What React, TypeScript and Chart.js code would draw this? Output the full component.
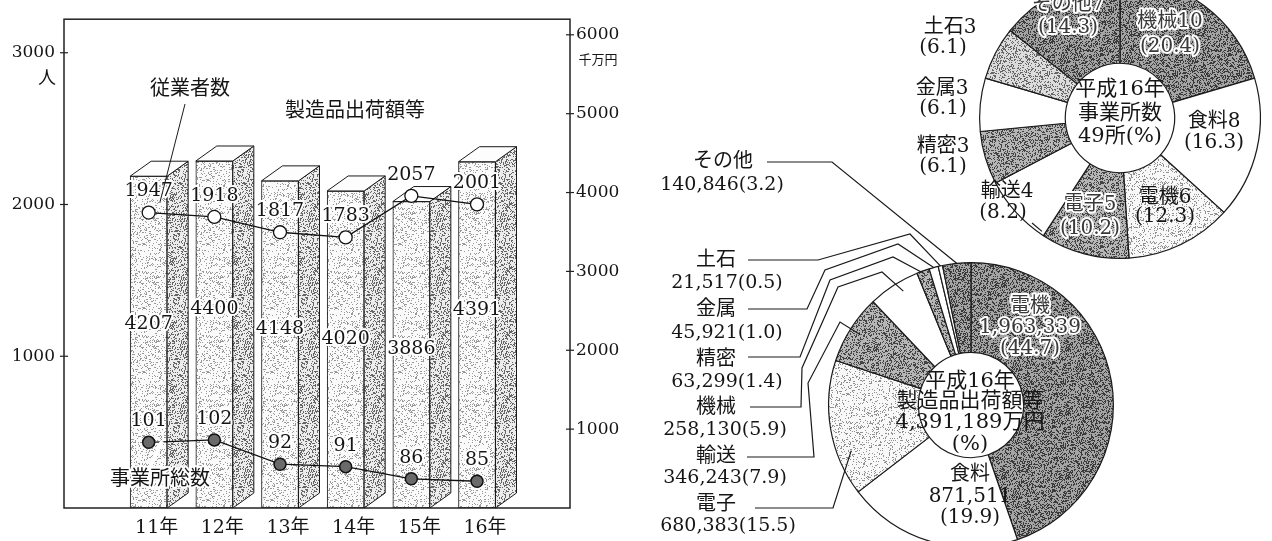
import React, { useEffect, useRef } from 'react';
import { Chart, registerables } from 'chart.js';

Chart.register(...registerables);

const FONT = "'DejaVu Serif', 'Noto Sans CJK JP', serif";

// ---------------- data ----------------
const years = ['11年', '12年', '13年', '14年', '15年', '16年'];
const shipmentSeries = [4207, 4400, 4148, 4020, 3886, 4391]; // 千万円 (right axis)
const employeeSeries = [1947, 1918, 1817, 1783, 2057, 2001]; // 人 (left axis)
const establishmentSeries = [101, 102, 92, 91, 86, 85]; // 所
const leftTicks = [1000, 2000, 3000];
const rightTicks = [1000, 2000, 3000, 4000, 5000, 6000];
const nameEmployees = '従業者数';
const nameShipments = '製造品出荷額等';
const nameEstablishments = '事業所総数';
const unitLeft = '人';
const unitRight = '千万円';

const estIndustries = ['機械', '食料', '電機', '電子', '輸送', '精密', '金属', '土石', 'その他'];
const estCounts = [10, 8, 6, 5, 4, 3, 3, 3, 7];
const estShares = ['20.4', '16.3', '12.3', '10.2', '8.2', '6.1', '6.1', '6.1', '14.3'];

const shipIndustries = ['電機', '食料', '電子', '輸送', '機械', '精密', '金属', '土石', 'その他'];
const shipValues = [1963339, 871511, 680383, 346243, 258130, 63299, 45921, 21517, 140846];
const shipShares = ['44.7', '19.9', '15.5', '7.9', '5.9', '1.4', '1.0', '0.5', '3.2'];

// ---------------- layout ----------------
const LEFT_W = 640;
const PAGE_H = 541;
const PLOT_TOP = 11;
const PLOT_LEFT_AXIS_W = 64;
const PLOT_RIGHT_AXIS_W = 70;
const PLOT_X_AXIS_H = 33;
const X_MIN = -0.647;
const X_MAX = 5.774;
const L_MAX = 3221;
const R_MAX = 6198;
const E_MIN = 74;
const E_MAX = 275;
const BAR_W = 37;
const DEPTH_X = 21;
const DEPTH_Y = 15;
const BAR_LABEL_DROP = 148;
const POINT_LABEL_RISE = 21;

const TOP_PIE = { cx: 1120, cy: 118, r: 141, cutout: '39%', L: 880, T: -30, W: 392, H: 300 };
const BOT_PIE = { cx: 971, cy: 405, r: 143, cutout: '37%', L: 640, T: 150, W: 632, H: 400 };

const fmt = (v: number) => v.toLocaleString('en-US');

function hash(i: number, j: number) {
  let h = Math.imul(i, 73856093) ^ Math.imul(j, 19349663);
  h = Math.imul(h ^ (h >>> 13), 1274126177);
  h = (h ^ (h >>> 16)) >>> 0;
  return h;
}

function makePattern(base: string, dot: string, density: number) {
  const size = 64;
  const c = document.createElement('canvas');
  c.width = size;
  c.height = size;
  const g = c.getContext('2d')!;
  g.fillStyle = base;
  g.fillRect(0, 0, size, size);
  g.fillStyle = dot;
  for (let j = 0; j < size; j++) {
    for (let i = 0; i < size; i++) {
      if (hash(i + 7, j + 3) % 1000 < density * 1000) g.fillRect(i, j, 1, 1);
    }
  }
  return g.createPattern(c, 'repeat')!;
}

function drawText(
  ctx: CanvasRenderingContext2D,
  t: string,
  x: number,
  y: number,
  size: number,
  mode: 'plain' | 'halo' | 'outline' = 'plain',
  align: CanvasTextAlign = 'center'
) {
  ctx.font = `${size}px ${FONT}`;
  ctx.textAlign = align;
  ctx.textBaseline = 'middle';
  ctx.lineJoin = 'round';
  if (mode === 'outline') {
    ctx.lineWidth = 4;
    ctx.strokeStyle = '#ffffff';
    ctx.strokeText(t, x, y);
    ctx.fillStyle = '#3a3a3a';
    ctx.fillText(t, x, y);
  } else if (mode === 'halo') {
    ctx.lineWidth = 4;
    ctx.strokeStyle = '#ffffff';
    ctx.strokeText(t, x, y);
    ctx.fillStyle = '#151515';
    ctx.fillText(t, x, y);
  } else {
    ctx.fillStyle = '#151515';
    ctx.fillText(t, x, y);
  }
}

function polyline(ctx: CanvasRenderingContext2D, pts: number[][]) {
  ctx.beginPath();
  pts.forEach((p, i) => (i === 0 ? ctx.moveTo(p[0], p[1]) : ctx.lineTo(p[0], p[1])));
  ctx.stroke();
}

type TextItem = { t: string; x: number; y: number; size: number; mode?: 'plain' | 'halo' | 'outline' };
type Leader = { pts: number[][]; idx: number; frac: number; rf: number };

function pieDecor(ox: number, oy: number, texts: TextItem[], leaders: Leader[]) {
  return {
    id: 'pieDecor',
    afterDatasetsDraw(chart: any) {
      const ctx: CanvasRenderingContext2D = chart.ctx;
      const arcs = chart.getDatasetMeta(0).data;
      ctx.save();
      ctx.translate(-ox, -oy);
      ctx.strokeStyle = '#1a1a1a';
      ctx.lineWidth = 1.2;
      ctx.lineJoin = 'miter';
      leaders.forEach((ld) => {
        const p = arcs[ld.idx].getProps(['x', 'y', 'startAngle', 'endAngle', 'outerRadius'], true);
        const a = p.startAngle + (p.endAngle - p.startAngle) * ld.frac;
        const ex = p.x + ox + Math.cos(a) * p.outerRadius * ld.rf;
        const ey = p.y + oy + Math.sin(a) * p.outerRadius * ld.rf;
        polyline(ctx, [...ld.pts, [ex, ey]]);
      });
      texts.forEach((tx) => drawText(ctx, tx.t, tx.x, tx.y, tx.size, tx.mode || 'plain'));
      ctx.restore();
    },
  };
}

function piePadding(p: typeof TOP_PIE) {
  return {
    left: p.cx - p.r - p.L,
    top: p.cy - p.r - p.T,
    right: p.L + p.W - (p.cx + p.r),
    bottom: p.T + p.H - (p.cy + p.r),
  };
}

export default function App() {
  const leftRef = useRef<HTMLCanvasElement>(null);
  const topRef = useRef<HTMLCanvasElement>(null);
  const botRef = useRef<HTMLCanvasElement>(null);

  useEffect(() => {
    const charts: Chart[] = [];
    const barFront = makePattern('#fafafa', '#999999', 0.18);
    const barSide = makePattern('#ececec', '#666666', 0.3);
    const dark = makePattern('#a4a4a4', '#3a3a3a', 0.38);
    const mid = makePattern('#b6b6b6', '#444444', 0.33);
    const lightMid = makePattern('#dcdcdc', '#666666', 0.28);
    const light = makePattern('#f8f8f8', '#909090', 0.17);
    const white = '#ffffff';

    // ---------- left combo chart ----------
    const leftDecor = {
      id: 'leftDecor',
      afterDatasetDraw(chart: any, args: any) {
        if (args.meta.type !== 'bar') return;
        const ctx: CanvasRenderingContext2D = chart.ctx;
        ctx.save();
        ctx.strokeStyle = '#1a1a1a';
        ctx.lineWidth = 1;
        args.meta.data.forEach((el: any) => {
          const { x, y, base, width } = el.getProps(['x', 'y', 'base', 'width'], true);
          const xl = x - width / 2;
          const xr = x + width / 2;
          ctx.beginPath();
          ctx.moveTo(xr, y);
          ctx.lineTo(xr + DEPTH_X, y - DEPTH_Y);
          ctx.lineTo(xr + DEPTH_X, base - DEPTH_Y);
          ctx.lineTo(xr, base);
          ctx.closePath();
          ctx.fillStyle = barSide;
          ctx.fill();
          ctx.stroke();
          ctx.beginPath();
          ctx.moveTo(xl, y);
          ctx.lineTo(xl + DEPTH_X, y - DEPTH_Y);
          ctx.lineTo(xr + DEPTH_X, y - DEPTH_Y);
          ctx.lineTo(xr, y);
          ctx.closePath();
          ctx.fillStyle = '#fdfdfd';
          ctx.fill();
          ctx.stroke();
        });
        ctx.restore();
      },
      afterDatasetsDraw(chart: any) {
        const ctx: CanvasRenderingContext2D = chart.ctx;
        const ca = chart.chartArea;
        const yL = chart.scales.yL;
        const yR = chart.scales.yR;
        ctx.save();
        ctx.strokeStyle = '#222';
        ctx.lineWidth = 1.5;
        ctx.strokeRect(ca.left, ca.top, ca.right - ca.left, ca.bottom - ca.top);
        ctx.lineWidth = 1.2;
        leftTicks.forEach((v) => {
          const py = yL.getPixelForValue(v);
          polyline(ctx, [[ca.left - 4, py], [ca.left + 4, py]]);
        });
        rightTicks.forEach((v) => {
          const py = yR.getPixelForValue(v);
          polyline(ctx, [[ca.right - 4, py], [ca.right + 4, py]]);
        });
        drawText(ctx, unitLeft, ca.left - 17, yL.getPixelForValue(3000) + 27, 18);
        drawText(ctx, unitRight, ca.right + 28, yR.getPixelForValue(6000) + 26, 13);

        chart.data.datasets.forEach((ds: any, di: number) => {
          const meta = chart.getDatasetMeta(di);
          meta.data.forEach((el: any, i: number) => {
            const { x, y } = el.getProps(['x', 'y'], true);
            const v = ds.data[i].y;
            if (meta.type === 'bar') drawText(ctx, String(v), x, y + BAR_LABEL_DROP, 19, 'halo');
            else drawText(ctx, String(v), x, y - POINT_LABEL_RISE, 19, 'halo');
          });
        });

        ctx.strokeStyle = '#1a1a1a';
        ctx.lineWidth = 1;
        polyline(ctx, [[185, 104], [160, 202]]);
        drawText(ctx, nameEmployees, 190, 90, 20, 'halo');
        polyline(ctx, [[318, 126], [293, 162]]);
        drawText(ctx, nameShipments, 355, 112, 20, 'halo');
        polyline(ctx, [[150, 467], [162, 441]]);
        drawText(ctx, nameEstablishments, 160, 480, 20, 'halo');
        ctx.restore();
      },
    };

    const tickFont = { family: FONT, size: 17 };
    const left = new Chart(leftRef.current!, {
      type: 'bar',
      data: {
        datasets: [
          {
            type: 'line',
            label: nameEmployees,
            data: employeeSeries.map((v, i) => ({ x: i, y: v })),
            yAxisID: 'yL',
            borderColor: '#111',
            borderWidth: 1.3,
            pointRadius: 6.5,
            pointBackgroundColor: '#ffffff',
            pointBorderColor: '#111',
            pointBorderWidth: 1.3,
            order: 1,
          } as any,
          {
            type: 'line',
            label: nameEstablishments,
            data: establishmentSeries.map((v, i) => ({ x: i, y: v })),
            yAxisID: 'yE',
            borderColor: '#111',
            borderWidth: 1.3,
            pointRadius: 6,
            pointBackgroundColor: '#6a6a6a',
            pointBorderColor: '#111',
            pointBorderWidth: 1.5,
            order: 2,
          } as any,
          {
            type: 'bar',
            label: nameShipments,
            data: shipmentSeries.map((v, i) => ({ x: i, y: v })),
            yAxisID: 'yR',
            barThickness: BAR_W,
            backgroundColor: barFront,
            borderColor: '#1a1a1a',
            borderWidth: 1,
            borderSkipped: false,
            order: 3,
          } as any,
        ],
      },
      options: {
        animation: false,
        responsive: false,
        events: [],
        layout: { padding: { top: PLOT_TOP, left: 0, right: 0, bottom: 0 } },
        plugins: { legend: { display: false }, tooltip: { enabled: false } },
        scales: {
          x: {
            type: 'linear',
            min: X_MIN,
            max: X_MAX,
            afterBuildTicks: (s: any) => {
              s.ticks = years.map((_, i) => ({ value: i }));
            },
            ticks: {
              callback: (v: any) => years[v] ?? '',
              labelOffset: 8,
              padding: 9,
              font: { family: FONT, size: 19 },
              color: '#151515',
              autoSkip: false,
              maxRotation: 0,
            },
            grid: { display: false, drawTicks: false },
            border: { display: false },
            afterFit: (s: any) => {
              s.height = PLOT_X_AXIS_H;
            },
          },
          yL: {
            type: 'linear',
            position: 'left',
            min: 0,
            max: L_MAX,
            afterBuildTicks: (s: any) => {
              s.ticks = leftTicks.map((v) => ({ value: v }));
            },
            ticks: { callback: (v: any) => String(v), font: tickFont, color: '#151515', padding: 9 },
            grid: { display: false, drawTicks: false },
            border: { display: false },
            afterFit: (s: any) => {
              s.width = PLOT_LEFT_AXIS_W;
            },
          },
          yR: {
            type: 'linear',
            position: 'right',
            min: 0,
            max: R_MAX,
            afterBuildTicks: (s: any) => {
              s.ticks = rightTicks.map((v) => ({ value: v }));
            },
            ticks: { callback: (v: any) => String(v), font: tickFont, color: '#151515', padding: 6 },
            grid: { display: false, drawTicks: false },
            border: { display: false },
            afterFit: (s: any) => {
              s.width = PLOT_RIGHT_AXIS_W;
            },
          },
          yE: { type: 'linear', display: false, min: E_MIN, max: E_MAX },
        },
      } as any,
      plugins: [leftDecor],
    });
    charts.push(left);

    // ---------- top pie: 事業所数 ----------
    const estTotal = estCounts.reduce((a, b) => a + b, 0);
    const topColors = [dark, white, light, mid, white, mid, white, lightMid, dark];
    const T = TOP_PIE;
    const topTexts: TextItem[] = [];
    const topPos: { p: number[][]; mode?: 'outline' }[] = [
      { p: [[1170, 22], [1170, 47]], mode: 'outline' },
      { p: [[1214, 122], [1214, 143]] },
      { p: [[1165, 198], [1165, 217]] },
      { p: [[1090, 205], [1090, 229]], mode: 'outline' },
      { p: [[1007, 192], [1003, 213]] },
      { p: [[943, 147], [943, 167]] },
      { p: [[942, 89], [943, 109]] },
      { p: [[950, 28], [943, 48]] },
      { p: [[1068, 5], [1068, 28]], mode: 'outline' },
    ];
    estIndustries.forEach((n, i) => {
      const pp = topPos[i];
      topTexts.push({ t: `${n}${estCounts[i]}`, x: pp.p[0][0], y: pp.p[0][1], size: 20, mode: pp.mode });
      topTexts.push({ t: `(${estShares[i]})`, x: pp.p[1][0], y: pp.p[1][1], size: 20, mode: pp.mode });
    });
    topTexts.push({ t: '平成16年', x: 1120, y: 90, size: 21 });
    topTexts.push({ t: '事業所数', x: 1120, y: 114, size: 21 });
    topTexts.push({ t: `${estTotal}所(%)`, x: 1120, y: 137, size: 21 });
    const topLeaders: Leader[] = [{ pts: [[1032, 223]], idx: 4, frac: 0.05, rf: 0.98 }];

    const top = new Chart(topRef.current!, {
      type: 'doughnut',
      data: {
        labels: estIndustries,
        datasets: [
          {
            data: estCounts,
            backgroundColor: topColors,
            borderColor: '#1a1a1a',
            borderWidth: 1.2,
            hoverOffset: 0,
            offset: 0,
          } as any,
        ],
      },
      options: {
        animation: false,
        responsive: false,
        events: [],
        cutout: T.cutout,
        rotation: 0,
        layout: { padding: piePadding(T) },
        plugins: { legend: { display: false }, tooltip: { enabled: false } },
      } as any,
      plugins: [pieDecor(T.L, T.T, topTexts, topLeaders)],
    });
    charts.push(top);

    // ---------- bottom pie: 製造品出荷額等 ----------
    const shipTotal = shipValues.reduce((a, b) => a + b, 0);
    const botColors = [dark, white, light, mid, white, mid, white, white, dark];
    const B = BOT_PIE;
    const botTexts: TextItem[] = [];
    botTexts.push({ t: shipIndustries[0], x: 1030, y: 307, size: 20, mode: 'outline' });
    botTexts.push({ t: fmt(shipValues[0]), x: 1030, y: 328, size: 20, mode: 'outline' });
    botTexts.push({ t: `(${shipShares[0]})`, x: 1030, y: 349, size: 20, mode: 'outline' });
    botTexts.push({ t: shipIndustries[1], x: 970, y: 475, size: 20 });
    botTexts.push({ t: fmt(shipValues[1]), x: 970, y: 497, size: 20 });
    botTexts.push({ t: `(${shipShares[1]})`, x: 970, y: 518, size: 20 });
    botTexts.push({ t: '平成16年', x: 970, y: 382, size: 21 });
    botTexts.push({ t: '製造品出荷額等', x: 970, y: 402, size: 21 });
    botTexts.push({ t: `${fmt(shipTotal)}万円`, x: 970, y: 423, size: 21 });
    botTexts.push({ t: '(%)', x: 970, y: 445, size: 21 });
    const outPos: Record<number, number[][]> = {
      8: [[723, 162], [722, 185]],
      7: [[716, 261], [727, 283]],
      6: [[716, 310], [727, 333]],
      5: [[716, 360], [727, 382]],
      4: [[716, 408], [725, 430]],
      3: [[716, 457], [725, 478]],
      2: [[716, 505], [728, 526]],
    };
    Object.keys(outPos).forEach((k) => {
      const i = Number(k);
      const p = outPos[i];
      botTexts.push({ t: shipIndustries[i], x: p[0][0], y: p[0][1], size: 20 });
      botTexts.push({ t: `${fmt(shipValues[i])}(${shipShares[i]})`, x: p[1][0], y: p[1][1], size: 19 });
    });
    const botLeaders: Leader[] = [
      { pts: [[767, 162], [832, 162]], idx: 8, frac: 0.5, rf: 1.0 },
      { pts: [[748, 260], [818, 260], [910, 234]], idx: 7, frac: 0.5, rf: 1.0 },
      { pts: [[748, 309], [807, 309], [825, 270], [898, 244]], idx: 6, frac: 0.5, rf: 1.0 },
      { pts: [[748, 357], [800, 357], [830, 280], [893, 257]], idx: 5, frac: 0.5, rf: 0.98 },
      { pts: [[750, 407], [801, 407], [802, 368], [838, 287], [882, 272]], idx: 4, frac: 0.6, rf: 0.93 },
      { pts: [[747, 457], [814, 457], [808, 383], [840, 322]], idx: 3, frac: 0.5, rf: 0.92 },
      { pts: [[755, 508], [833, 508]], idx: 2, frac: 0.3, rf: 0.9 },
    ];

    const bot = new Chart(botRef.current!, {
      type: 'doughnut',
      data: {
        labels: shipIndustries,
        datasets: [
          {
            data: shipValues,
            backgroundColor: botColors,
            borderColor: '#1a1a1a',
            borderWidth: 1.2,
            hoverOffset: 0,
            offset: 0,
          } as any,
        ],
      },
      options: {
        animation: false,
        responsive: false,
        events: [],
        cutout: B.cutout,
        rotation: 0,
        layout: { padding: piePadding(B) },
        plugins: { legend: { display: false }, tooltip: { enabled: false } },
      } as any,
      plugins: [pieDecor(B.L, B.T, botTexts, botLeaders)],
    });
    charts.push(bot);

    return () => charts.forEach((c) => c.destroy());
  }, []);

  const abs = (l: number, t: number, w: number, h: number): React.CSSProperties => ({
    position: 'absolute',
    left: l,
    top: t,
    width: w,
    height: h,
  });

  return (
    <div
      style={{
        position: 'fixed',
        left: 0,
        top: 0,
        width: 1272,
        height: PAGE_H,
        overflow: 'hidden',
        background: '#ffffff',
      }}
    >
      <canvas ref={leftRef} width={LEFT_W} height={PAGE_H} style={abs(0, 0, LEFT_W, PAGE_H)} />
      <canvas ref={botRef} width={BOT_PIE.W} height={BOT_PIE.H} style={abs(BOT_PIE.L, BOT_PIE.T, BOT_PIE.W, BOT_PIE.H)} />
      <canvas ref={topRef} width={TOP_PIE.W} height={TOP_PIE.H} style={abs(TOP_PIE.L, TOP_PIE.T, TOP_PIE.W, TOP_PIE.H)} />
    </div>
  );
}
